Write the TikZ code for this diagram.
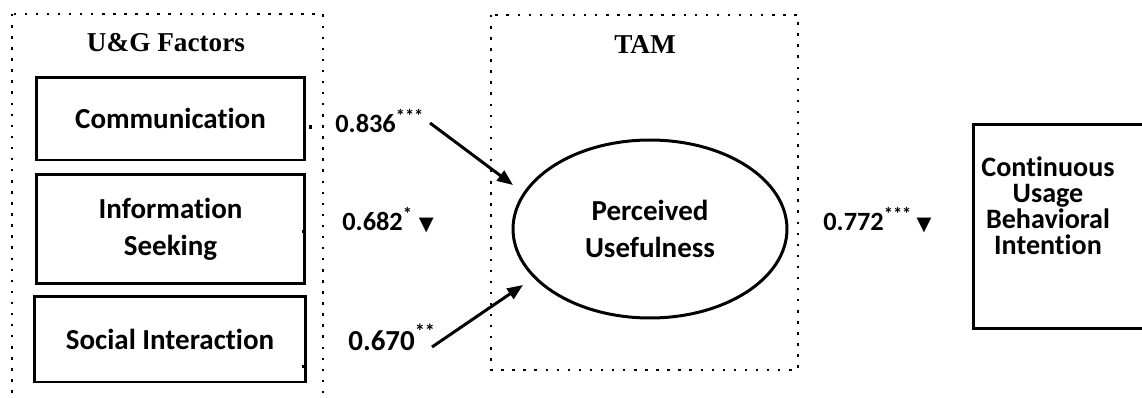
\documentclass[tikz,border=0pt]{standalone}
\usepackage{fontspec}
\setmainfont[Ligatures=NoCommon]{Carlito}
\newfontfamily\headfont{Liberation Serif}
\newfontfamily\symfont{DejaVu Sans}
\usetikzlibrary{arrows.meta,shapes.geometric}
\newcommand{\downmark}{{\symfont\fontsize{11}{11}\selectfont ▼}}

\begin{document}
\begin{tikzpicture}[x=0.02cm,y=-0.02cm,
    groupbox/.style={dash pattern=on 1.4pt off 4.9pt,line width=1.5pt},
    factorbox/.style={draw,line width=1.7pt,align=center,inner sep=0pt,
      font=\fontsize{16.5}{21}\selectfont\bfseries},
    headlabel/.style={font=\headfont\fontsize{15.5}{18}\selectfont\bfseries},
    coef/.style={anchor=base west,inner sep=0pt,font=\fontsize{15}{18}\selectfont\bfseries},
    pathline/.style={-{Triangle[length=9pt,width=7pt]},line width=1.7pt}]
    \useasboundingbox (0,0) rectangle (1142,397);
    \clip (0,0) rectangle (1142,397);
    % groups
    \draw[groupbox] (12,14) rectangle (323,430);
    \draw[groupbox] (491,15) rectangle (798,370);
    \node[headlabel] (ugtitle) at (166,43) {U\&G Factors};
    \node[headlabel] (tamtitle) at (645,45) {TAM};
    % U&G factors
    \node[factorbox,minimum width=5.38cm,minimum height=1.66cm] (comm) at (170.5,118.5) {Communication};
    \node[factorbox,minimum width=5.38cm,minimum height=2.18cm] (info) at (170.5,229) {Information\\Seeking};
    \node[factorbox,minimum width=5.44cm,minimum height=1.72cm] (social) at (170,339) {Social Interaction};
    \fill (309,125) rectangle (312,129);
    \fill (302,230) rectangle (304,233);
    \fill (302,365) rectangle (305,368);
    % TAM
    \node[factorbox,ellipse,minimum width=5.48cm,minimum height=3.56cm] (pu) at (650,229) {Perceived\\Usefulness};
    % outcome
    \node[draw,line width=1.7pt,anchor=north west,minimum width=4.2cm,minimum height=4.08cm] (cubibox) at (972,123) {};
    \node[align=center,inner sep=0pt,font=\fontsize{16}{14.8}\selectfont\bfseries] (cubi) at (1048,206) {Continuous\\Usage\\Behavioral\\Intention};
    % coefficients
    \node[coef] (c836) at (335,132) {0.836\textsuperscript{***}};
    \node[coef] (c682) at (342,230) {0.682\textsuperscript{*} \downmark};
    \node[coef,font=\fontsize{16.5}{20}\selectfont\bfseries] (c670) at (348,350) {0.670\textsuperscript{**}};
    \node[coef] (c772) at (823,230) {0.772\textsuperscript{***}\,\downmark};
    \coordinate (a1s) at (430,123);
    \coordinate (a1e) at (513,185);
    \coordinate (a2s) at (432,347);
    \coordinate (a2e) at (523,285);
    \draw[pathline] (a1s) -- (a1e);
    \draw[pathline] (a2s) -- (a2e);
\end{tikzpicture}
\end{document}
